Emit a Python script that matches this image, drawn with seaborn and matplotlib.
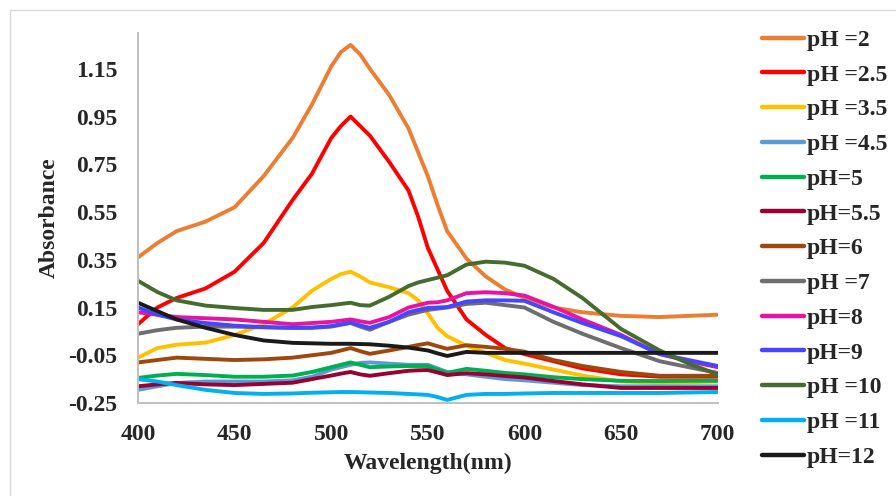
import numpy as np
import pandas as pd
import matplotlib
matplotlib.use("Agg")
import matplotlib.pyplot as plt
import seaborn as sns
from matplotlib.lines import Line2D

wavelength = [400, 410, 420, 435, 450, 465, 480, 490, 500, 505, 510, 515, 520, 530, 540,
              545, 550, 555, 560, 570, 580, 590, 600, 615, 630, 650, 670, 685, 700]

ph_2 = [0.36, 0.42, 0.47, 0.51, 0.57, 0.70, 0.86, 1.00, 1.16, 1.22, 1.25, 1.21, 1.15, 1.04, 0.90,
        0.80, 0.70, 0.58, 0.47, 0.355, 0.28, 0.225, 0.19, 0.15, 0.13, 0.115, 0.11, 0.115, 0.12]
ph_2_5 = [0.08, 0.15, 0.19, 0.23, 0.30, 0.42, 0.60, 0.71, 0.86, 0.91, 0.95, 0.91, 0.87, 0.76, 0.64,
          0.53, 0.40, 0.31, 0.22, 0.10, 0.035, -0.02, -0.045, -0.075, -0.105, -0.13, -0.14, -0.14, -0.14]
ph_3_5 = [-0.06, -0.02, -0.006, 0.003, 0.035, 0.08, 0.15, 0.22, 0.27, 0.29, 0.30, 0.28, 0.255, 0.235, 0.21,
          0.18, 0.125, 0.065, 0.03, -0.01, -0.04, -0.07, -0.085, -0.11, -0.135, -0.16, -0.165, -0.163, -0.16]
ph_4_5 = [-0.195, -0.18, -0.166, -0.16, -0.16, -0.16, -0.155, -0.14, -0.11, -0.10, -0.09, -0.082, -0.08, -0.085, -0.09,
          -0.09, -0.09, -0.105, -0.12, -0.13, -0.14, -0.15, -0.155, -0.165, -0.175, -0.18, -0.18, -0.18, -0.18]
ph_5 = [-0.145, -0.135, -0.128, -0.133, -0.14, -0.14, -0.135, -0.12, -0.10, -0.09, -0.08, -0.09, -0.10, -0.097, -0.095,
        -0.095, -0.095, -0.11, -0.124, -0.107, -0.115, -0.124, -0.13, -0.142, -0.15, -0.157, -0.158, -0.157, -0.157]
ph_5_5 = [-0.18, -0.172, -0.166, -0.172, -0.175, -0.17, -0.165, -0.15, -0.135, -0.127, -0.12, -0.13, -0.136, -0.125, -0.115,
          -0.113, -0.112, -0.122, -0.133, -0.125, -0.13, -0.137, -0.143, -0.158, -0.172, -0.187, -0.187, -0.187, -0.187]
ph_6 = [-0.08, -0.07, -0.06, -0.065, -0.07, -0.067, -0.06, -0.05, -0.04, -0.03, -0.02, -0.033, -0.044, -0.03, -0.015,
        -0.007, 0.0, -0.012, -0.023, -0.008, -0.015, -0.023, -0.035, -0.07, -0.095, -0.12, -0.136, -0.136, -0.136]
ph_7 = [0.04, 0.055, 0.065, 0.07, 0.07, 0.067, 0.065, 0.065, 0.07, 0.078, 0.086, 0.07, 0.057, 0.09, 0.12,
        0.13, 0.14, 0.145, 0.15, 0.165, 0.17, 0.16, 0.15, 0.09, 0.04, -0.02, -0.075, -0.10, -0.124]
ph_8 = [0.13, 0.12, 0.11, 0.105, 0.10, 0.09, 0.08, 0.085, 0.09, 0.095, 0.10, 0.092, 0.086, 0.11, 0.15,
        0.16, 0.17, 0.172, 0.18, 0.21, 0.214, 0.21, 0.20, 0.153, 0.10, 0.035, -0.045, -0.075, -0.10]
ph_9 = [0.15, 0.12, 0.10, 0.085, 0.074, 0.068, 0.065, 0.066, 0.072, 0.079, 0.086, 0.075, 0.065, 0.09, 0.13,
        0.14, 0.148, 0.15, 0.152, 0.175, 0.18, 0.18, 0.178, 0.13, 0.085, 0.03, -0.045, -0.07, -0.095]
ph_10 = [0.262, 0.215, 0.18, 0.158, 0.148, 0.14, 0.14, 0.152, 0.16, 0.165, 0.17, 0.16, 0.158, 0.195, 0.24,
         0.255, 0.265, 0.275, 0.285, 0.33, 0.342, 0.338, 0.325, 0.27, 0.19, 0.06, -0.03, -0.085, -0.13]
ph_11 = [-0.15, -0.16, -0.175, -0.195, -0.208, -0.212, -0.21, -0.207, -0.205, -0.204, -0.204, -0.205, -0.206, -0.208, -0.212,
         -0.214, -0.216, -0.225, -0.237, -0.216, -0.212, -0.212, -0.21, -0.208, -0.208, -0.208, -0.208, -0.206, -0.204]
ph_12 = [0.17, 0.135, 0.10, 0.065, 0.035, 0.012, 0.002, 0.0, -0.002, -0.002, -0.002, -0.003, -0.004, -0.01, -0.018,
         -0.024, -0.03, -0.042, -0.053, -0.036, -0.04, -0.04, -0.04, -0.04, -0.04, -0.04, -0.04, -0.04, -0.04]

labels = ["pH =2", "pH =2.5", "pH =3.5", "pH =4.5", "pH=5", "pH=5.5", "pH=6",
          "pH =7", "pH=8", "pH=9", "pH =10", "pH =11", "pH=12"]
series = [ph_2, ph_2_5, ph_3_5, ph_4_5, ph_5, ph_5_5, ph_6, ph_7, ph_8, ph_9, ph_10, ph_11, ph_12]
colors = ["#ED7D31", "#FF0000", "#FFC000", "#5B9BD5", "#00B050", "#990033", "#9E480E",
          "#6E6E6E", "#E614A0", "#4646FF", "#466B2E", "#00B0F0", "#1A1A1A"]
yticks = [-0.25, -0.05, 0.15, 0.35, 0.55, 0.75, 0.95, 1.15]
xticks = [400, 450, 500, 550, 600, 650, 700]

df = pd.concat([pd.DataFrame({"Wavelength": wavelength, "Absorbance": s, "pH": lab})
                for lab, s in zip(labels, series)], ignore_index=True)

sns.set_theme(style="white")
plt.rcParams["font.family"] = ["Liberation Serif", "DejaVu Serif"]
plt.rcParams["font.weight"] = "bold"
plt.rcParams["axes.unicode_minus"] = False

fig = plt.figure(figsize=(8.96, 4.96), dpi=100)
ax = fig.add_axes([0.154, 0.1875, 0.647, 0.746])

sns.lineplot(data=df, x="Wavelength", y="Absorbance", hue="pH", hue_order=labels,
             palette=colors, linewidth=2.8, ax=ax, legend=False, sort=True,
             solid_joinstyle="round", solid_capstyle="round")

ax.set_xlim(400, 700)
ax.set_ylim(-0.25, 1.30)
ax.set_xticks(xticks)
ax.set_yticks(yticks)
ax.set_yticklabels([f"{v:.2f}" for v in yticks])
ax.tick_params(axis="both", length=0, labelsize=17, pad=15)
for t in ax.get_xticklabels() + ax.get_yticklabels():
    t.set_fontweight("bold")
ax.set_xlabel("Wavelength(nm)", fontsize=17, fontweight="bold", labelpad=6)
ax.set_ylabel("Absorbance", fontsize=17, fontweight="bold", labelpad=6)

for side in ["top", "right"]:
    ax.spines[side].set_visible(False)
for side in ["left", "bottom"]:
    ax.spines[side].set_color("#BFBFBF")
    ax.spines[side].set_linewidth(1.4)

handles = [Line2D([0], [0], color=c, lw=3.2, solid_capstyle="round") for c in colors]
leg = fig.legend(handles, labels, loc="upper left", bbox_to_anchor=(0.851, 0.941),
                 frameon=False, prop={"size": 17, "weight": "bold"},
                 handlelength=1.74, handletextpad=0.15, labelspacing=0.56,
                 borderaxespad=0, borderpad=0)

# light outer frame (left and top edges visible)
fig.add_artist(Line2D([10 / 896, 10 / 896], [1 - 10 / 496, 0], color="#D9D9D9", lw=1.0,
                      transform=fig.transFigure))
fig.add_artist(Line2D([10 / 896, 1], [1 - 10 / 496, 1 - 10 / 496], color="#D9D9D9", lw=1.0,
                      transform=fig.transFigure))

fig.savefig("out.png", dpi=100)
